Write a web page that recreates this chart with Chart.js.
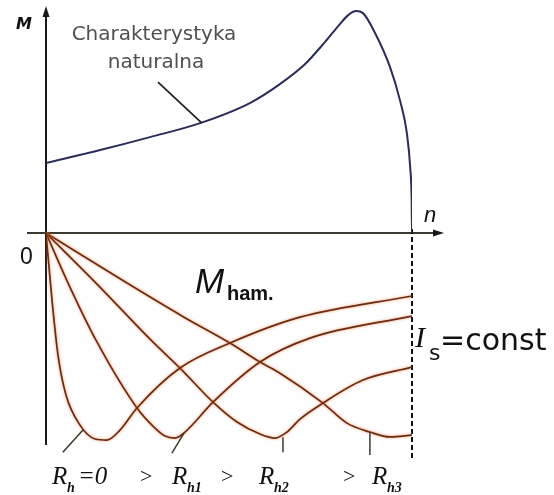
<!DOCTYPE html>
<html>
<head>
<meta charset="utf-8">
<script src="https://cdn.jsdelivr.net/npm/chart.js@4"></script>
<style>
  html, body { margin: 0; padding: 0; background: #ffffff; }
  #wrap { width: 554px; height: 495px; }
</style>
</head>
<body>
<div id="wrap"><canvas id="chart" width="554" height="495"></canvas></div>
<script>
// speed n in % of synchronous speed, torque M in % of breakdown torque
const naturalN = [0, 14.8, 28.4, 42.1, 55.7, 63.9, 70.8, 76.2, 80.3, 82.5, 84.7, 86.6, 89.9, 94.0, 96.7, 98.6, 99.5, 99.9, 100];
const naturalM = [31.4, 37.2, 43.0, 49.3, 58.3, 66.8, 75.8, 85.6, 93.7, 97.6, 99.5, 98.6, 89.7, 74.4, 59.6, 44.8, 29.6, 14.8, 0];

// braking torque curves, Is = const
const rh0N = [0, 1.64, 3.28, 5.46, 9.29, 13.39, 16.67, 20.22, 24.86, 36.61, 50.27, 69.40, 100];
const rh0M = [0, -30.0, -54.7, -72.6, -86.1, -92.3, -92.8, -88.3, -78.4, -60.5, -49.3, -37.7, -28.2];

const rh1N = [0, 6.28, 13.66, 24.86, 28.96, 32.51, 35.25, 37.98, 45.63, 58.47, 72.13, 100];
const rh1M = [0, -23.3, -48.0, -78.4, -86.1, -91.0, -91.9, -89.2, -75.8, -57.8, -47.1, -37.2];

const rh2N = [0, 14.2, 28.69, 36.61, 45.63, 52.19, 58.47, 62.57, 65.85, 69.40, 75.68, 86.61, 100];
const rh2M = [0, -23.3, -48.0, -60.5, -75.8, -84.7, -90.1, -91.9, -89.2, -83.4, -76.2, -65.9, -60.1];

const rh3N = [0, 22.13, 37.70, 50.27, 58.47, 63.93, 75.68, 82.24, 88.52, 93.99, 100];
const rh3M = [0, -22.4, -37.7, -49.3, -57.8, -62.8, -76.2, -85.2, -89.2, -91.4, -90.6];

const toPoints = (xs, ys) => xs.map((x, i) => ({ x: x, y: ys[i] }));

const BRAKE = "#6a2c12";

function brakeSet(label, xs, ys) {
    return {
        label: label,
        data: toPoints(xs, ys),
        borderColor: BRAKE,
        borderWidth: 1.7,
        glow: true,
    };
}

const glowPlugin = {
    id: "glow",
    beforeDatasetDraw(chart, args) {
        const ds = chart.data.datasets[args.index];
        if (!ds.glow) return;
        const ctx = chart.ctx;
        ctx.save();
        ctx.shadowColor = "rgba(235, 110, 50, 0.75)";
        ctx.shadowBlur = 3;
    },
    afterDatasetDraw(chart, args) {
        const ds = chart.data.datasets[args.index];
        if (ds.glow) chart.ctx.restore();
    },
};

function arrow(ctx, x, y, dir) {
    ctx.beginPath();
    if (dir === "up") {
        ctx.moveTo(x, y);
        ctx.lineTo(x - 3.5, y + 11);
        ctx.lineTo(x + 3.5, y + 11);
    } else {
        ctx.moveTo(x, y);
        ctx.lineTo(x - 11, y - 3.5);
        ctx.lineTo(x - 11, y + 3.5);
    }
    ctx.closePath();
    ctx.fill();
}

function segment(ctx, xs, ys, a, b) {
    ctx.beginPath();
    ctx.moveTo(xs.getPixelForValue(a[0]), ys.getPixelForValue(a[1]));
    ctx.lineTo(xs.getPixelForValue(b[0]), ys.getPixelForValue(b[1]));
    ctx.stroke();
}

const axesPlugin = {
    id: "axes",
    beforeDatasetsDraw(chart) {
        const ctx = chart.ctx;
        const xs = chart.scales.x;
        const ys = chart.scales.y;
        const x0 = xs.getPixelForValue(0);
        const y0 = ys.getPixelForValue(0);
        const xEnd = xs.getPixelForValue(100);
        ctx.save();
        ctx.strokeStyle = "#1a1a1a";
        ctx.fillStyle = "#1a1a1a";
        ctx.lineWidth = 2;
        // M axis
        ctx.beginPath();
        ctx.moveTo(x0, chart.chartArea.bottom);
        ctx.lineTo(x0, 14);
        ctx.stroke();
        arrow(ctx, x0, 6, "up");
        // n axis
        ctx.strokeStyle = "#3a3a30";
        ctx.beginPath();
        ctx.moveTo(27, y0);
        ctx.lineTo(436, y0);
        ctx.stroke();
        arrow(ctx, 444, y0, "right");
        // synchronous speed
        ctx.strokeStyle = "#111";
        ctx.setLineDash([5, 3]);
        ctx.beginPath();
        ctx.moveTo(xEnd, y0 - 4);
        ctx.lineTo(xEnd, 458);
        ctx.stroke();
        ctx.restore();
    },
    afterDraw(chart) {
        const ctx = chart.ctx;
        const xs = chart.scales.x;
        const ys = chart.scales.y;
        ctx.save();
        ctx.textBaseline = "alphabetic";

        // leader lines
        ctx.strokeStyle = "#222";
        ctx.lineWidth = 1.8;
        segment(ctx, xs, ys, [30.6, 67.7], [42.6, 49.3]);
        ctx.strokeStyle = "#3a3a2a";
        ctx.lineWidth = 1.5;
        segment(ctx, xs, ys, [4.6, -98.2], [10.1, -88.3]);
        segment(ctx, xs, ys, [34.4, -98.6], [37.7, -89.7]);
        segment(ctx, xs, ys, [64.75, -91.5], [64.75, -98.2]);
        segment(ctx, xs, ys, [88.5, -89.2], [88.5, -99.5]);

        // axis names
        ctx.fillStyle = "#111";
        ctx.font = "bold oblique 16px 'DejaVu Sans'";
        ctx.fillText("M", 16, 29);
        ctx.font = "italic 22px 'Liberation Sans'";
        ctx.fillText("n", 424, 222);
        ctx.font = "23px 'Liberation Sans'";
        ctx.fillText("0", 20, 264);

        // natural characteristic caption
        ctx.fillStyle = "#505050";
        ctx.font = "20px 'DejaVu Sans'";
        ctx.textAlign = "center";
        ctx.fillText("Charakterystyka", 154, 40);
        ctx.fillText("naturalna", 156, 68);
        ctx.textAlign = "left";

        // M ham.
        ctx.fillStyle = "#111";
        ctx.font = "italic 35px 'Liberation Sans'";
        ctx.fillText("M", 195, 293);
        ctx.font = "bold 20px 'Liberation Sans'";
        ctx.fillText("ham.", 227, 300);

        // Is = const
        ctx.font = "italic 30px 'Liberation Serif'";
        ctx.fillText("I", 415, 347);
        ctx.font = "22px 'DejaVu Sans'";
        ctx.fillText("s", 429, 360);
        ctx.font = "30px 'DejaVu Sans'";
        ctx.fillText("=const", 440, 350);

        // resistance labels
        const big = "italic 25px 'Liberation Serif'";
        const sub = "italic bold 14px 'Liberation Serif'";
        const gt = "22px 'Liberation Serif'";
        const base = 484;
        const R = (x, s) => {
            ctx.font = big;
            ctx.fillText("R", x, base);
            ctx.font = sub;
            ctx.fillText(s, x + 15, base + 8);
        };
        R(52, "h");
        ctx.font = big;
        ctx.fillText("=0", 78, base);
        ctx.font = gt;
        ctx.fillText(">", 140, base - 1);
        R(172, "h1");
        ctx.font = gt;
        ctx.fillText(">", 221, base - 1);
        R(259, "h2");
        ctx.font = gt;
        ctx.fillText(">", 343, base - 1);
        R(372, "h3");
        ctx.restore();
    },
};

new Chart(document.getElementById("chart"), {
    type: "line",
    data: {
        datasets: [
            {
                label: "Charakterystyka naturalna",
                data: toPoints(naturalN, naturalM),
                borderColor: "#2a2d58",
                borderWidth: 2,
            },
            brakeSet("Rh=0", rh0N, rh0M),
            brakeSet("Rh1", rh1N, rh1M),
            brakeSet("Rh2", rh2N, rh2M),
            brakeSet("Rh3", rh3N, rh3M),
        ],
    },
    options: {
        responsive: false,
        animation: false,
        layout: { padding: { left: 46, right: 142, top: 10, bottom: 50 } },
        elements: {
            point: { radius: 0 },
            line: { cubicInterpolationMode: "monotone", fill: false },
        },
        scales: {
            x: { type: "linear", min: 0, max: 100, display: false },
            y: { type: "linear", min: -95, max: 100, display: false },
        },
        plugins: {
            legend: { display: false },
            tooltip: { enabled: false },
        },
    },
    plugins: [glowPlugin, axesPlugin],
});
</script>
</body>
</html>
